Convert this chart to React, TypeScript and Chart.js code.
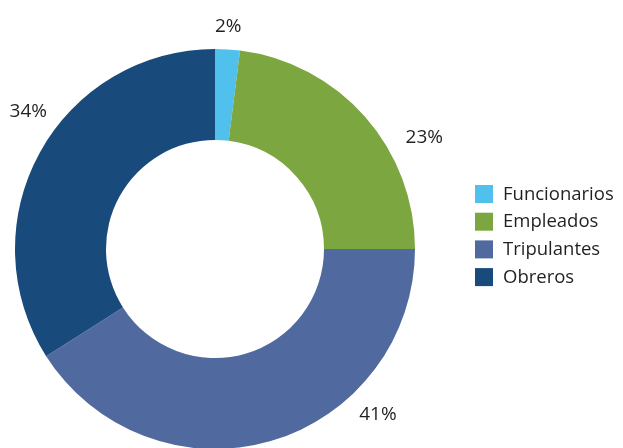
import React, { useEffect, useRef } from "react";
import { Chart, registerables } from "chart.js";

Chart.register(...registerables);

const categories = ["Funcionarios", "Empleados", "Tripulantes", "Obreros"];
const values = [2, 23, 41, 34];
const valueLabels = ["2%", "23%", "41%", "34%"];
const colors = ["#4fc1ec", "#7ca63f", "#506a9f", "#184a7c"];

// label placement (angle in degrees clockwise from top, distance from centre in px)
const labelPlacement = [
  { angle: 3.4, dist: 223 },
  { angle: 62, dist: 237 },
  { angle: 135.4, dist: 232 },
  { angle: 306.4, dist: 232 },
];

const FONT = "'Open Sans', 'Noto Sans', sans-serif";
const TEXT = "#231f20";

const overlayPlugin = {
  id: "overlay",
  afterDraw(chart: any) {
    const ctx = chart.ctx;
    const meta = chart.getDatasetMeta(0);
    const arc = meta.data[0];
    if (!arc) return;
    const cx = arc.x;
    const cy = arc.y;
    ctx.save();
    ctx.fillStyle = TEXT;
    ctx.font = `19px ${FONT}`;
    ctx.textAlign = "center";
    ctx.textBaseline = "middle";
    valueLabels.forEach((t, i) => {
      const p = labelPlacement[i];
      const a = (p.angle * Math.PI) / 180;
      ctx.fillText(t, cx + p.dist * Math.sin(a), cy - p.dist * Math.cos(a));
    });
    // legend
    const lx = 475;
    const ly = 185;
    const step = 27.7;
    ctx.textAlign = "left";
    ctx.font = `18.5px ${FONT}`;
    categories.forEach((c, i) => {
      const y = ly + i * step;
      ctx.fillStyle = colors[i];
      ctx.fillRect(lx, y, 18, 18);
      ctx.fillStyle = TEXT;
      ctx.fillText(c, lx + 28, y + 9.5);
    });
    ctx.restore();
  },
};

export default function App() {
  const ref = useRef<HTMLCanvasElement | null>(null);
  useEffect(() => {
    document.body.style.margin = "0";
    if (!ref.current) return;
    const chart = new Chart(ref.current, {
      type: "doughnut",
      data: {
        labels: categories,
        datasets: [
          {
            data: values,
            backgroundColor: colors,
            borderWidth: 0,
          },
        ],
      },
      options: {
        animation: false,
        responsive: false,
        cutout: "54.5%",
        layout: { padding: { top: 49, left: 15, right: 208, bottom: 3 } },
        plugins: {
          legend: { display: false },
          tooltip: { enabled: false },
        },
      },
      plugins: [overlayPlugin],
    });
    return () => chart.destroy();
  }, []);
  return (
    <div style={{ position: "absolute", left: 0, top: 0, width: 623, height: 448, overflow: "hidden", background: "#fff" }}>
      <canvas ref={ref} width={623} height={452} style={{ display: "block" }} />
    </div>
  );
}
